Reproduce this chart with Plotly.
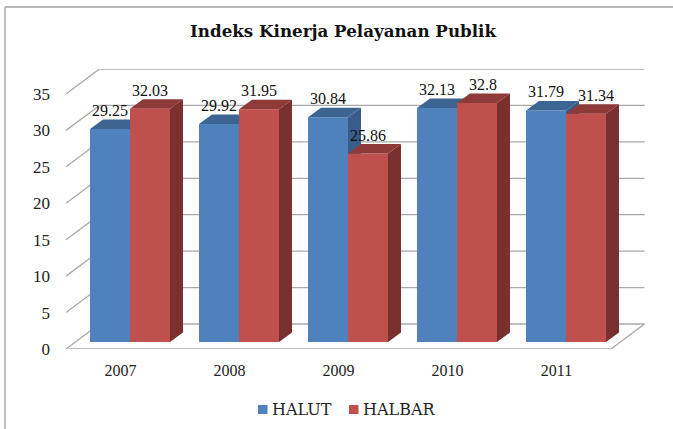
import plotly.graph_objects as go

years = ["2007", "2008", "2009", "2010", "2011"]
halut = [29.25, 29.92, 30.84, 32.13, 31.79]
halbar = [32.03, 31.95, 25.86, 32.80, 31.34]
y_ticks = [0, 5, 10, 15, 20, 25, 30, 35]

# Layout geometry, in pixels of the 673x429 page
W, H = 673, 429
LEFT, BOTTOM_Y, RIGHT, TOP_Y = 66, 349, 645, 69
PX_X, PX_Y = 109.0, 7.286          # pixels per category, pixels per value unit
x_max = (RIGHT - LEFT) / PX_X
y_max = (BOTTOM_Y - TOP_Y) / PX_Y
WALL_DX, WALL_DY = 33.5 / PX_X, 25 / PX_Y    # depth of the floor
BAR_DX, BAR_DY = 13 / PX_X, 9.5 / PX_Y       # depth of a bar
BAR_W = 40 / PX_X
BASE = 7 / PX_Y
BLUE_C, RED_C = 44 / PX_X, 84 / PX_X         # face centres within a category
LABEL_UP = 17 / PX_Y
GRID = "#a8a8a8"
FONT = "Liberation Serif"
WIDE_FONT = "DejaVu Serif"
BLUE, RED = "#4F81BD", "#C0504D"

pw, ph = RIGHT - LEFT, BOTTOM_Y - TOP_Y


def paper_x(px):
    return (px - LEFT) / pw


def paper_y(py):
    return (BOTTOM_Y - py) / ph


def side_top(centres, values):
    sx, sy, tx, ty = [], [], [], []
    for c, v in zip(centres, values):
        r, l = c + BAR_W / 2, c - BAR_W / 2
        top = BASE + v
        sx += [r, r + BAR_DX, r + BAR_DX, r, r, None]
        sy += [BASE, BASE + BAR_DY, top + BAR_DY, top, BASE, None]
        tx += [l, l + BAR_DX, r + BAR_DX, r, l, None]
        ty += [top, top + BAR_DY, top + BAR_DY, top, top, None]
    return sx, sy, tx, ty


def add_series(fig, name, values, centre, front, side, top, xa, ya):
    centres = [i + centre for i in range(len(values))]
    sx, sy, tx, ty = side_top(centres, values)
    fig.add_trace(go.Bar(x=centres, y=values, base=BASE, width=BAR_W, name=name,
                         marker=dict(color=front, line=dict(width=0)),
                         xaxis=xa, yaxis=ya, hoverinfo="name+y", showlegend=False))
    for px, py, col in ((sx, sy, side), (tx, ty, top)):
        fig.add_trace(go.Scatter(x=px, y=py, mode="lines", fill="toself", fillcolor=col,
                                 line=dict(width=0, color=col), showlegend=False,
                                 hoverinfo="skip", xaxis=xa, yaxis=ya))


fig = go.Figure()
add_series(fig, "HALUT", halut, BLUE_C, BLUE, "#385D8A", "#3D6594", "x", "y")
add_series(fig, "HALBAR", halbar, RED_C, RED, "#7A302E", "#8E3A38", "x2", "y2")

# Data labels (two of them sit further right in the original)
nudge = {"2010": 6 / PX_X, "2011": 10 / PX_X}
label_x = [i + BLUE_C for i in range(5)] + [i + RED_C + (nudge.get(years[i], 0)) for i in range(5)]
label_y = [BASE + v + LABEL_UP for v in halut + halbar]
fig.add_trace(go.Scatter(x=label_x, y=label_y, mode="text",
                         text=[f"{v:g}" for v in halut + halbar], textposition="middle center",
                         textfont=dict(family=FONT, size=16, color="#111111"),
                         showlegend=False, hoverinfo="skip", xaxis="x2", yaxis="y2", cliponaxis=False))

# Walls and floor lines, derived from the axis ticks
shapes = []
for t in y_ticks:
    shapes.append(dict(type="line", x0=0, y0=t, x1=WALL_DX, y1=t + WALL_DY, xref="x", yref="y",
                       line=dict(color=GRID, width=1.3), layer="below"))
    shapes.append(dict(type="line", x0=WALL_DX, y0=t + WALL_DY, x1=5 + WALL_DX, y1=t + WALL_DY,
                       xref="x", yref="y", line=dict(color=GRID, width=1.3), layer="below"))
shapes.append(dict(type="line", x0=0, y0=0, x1=5, y1=0, xref="x", yref="y",
                   line=dict(color=GRID, width=1.5), layer="below"))
shapes.append(dict(type="line", x0=5, y0=0, x1=5 + WALL_DX, y1=WALL_DY, xref="x", yref="y",
                   line=dict(color=GRID, width=1.3), layer="below"))
# Chart frame: left and top edges only, running off the page
for a in (dict(x0=paper_x(5), y0=paper_y(H + 5), x1=paper_x(5), y1=paper_y(7)),
          dict(x0=paper_x(5), y0=paper_y(7), x1=paper_x(W + 5), y1=paper_y(7))):
    shapes.append(dict(type="line", xref="paper", yref="paper", line=dict(color="#a0a0a0", width=1.3), **a))

# Legend: swatches sit much closer to their text than a Plotly legend allows
annotations = []
for name, colour, swatch_left in (("HALUT", BLUE, 258), ("HALBAR", RED, 349)):
    shapes.append(dict(type="rect", xref="paper", yref="paper", x0=paper_x(swatch_left), x1=paper_x(swatch_left + 9.5),
                       y0=paper_y(414), y1=paper_y(405), fillcolor=colour, line=dict(width=0)))
    annotations.append(dict(text=name, xref="paper", yref="paper", x=paper_x(swatch_left + 12), y=paper_y(409.5),
                            xanchor="left", yanchor="middle", showarrow=False,
                            font=dict(family=WIDE_FONT, size=16, color="#222222")))

fig.update_layout(
    width=W, height=H, autosize=False, showlegend=False,
    margin=dict(l=LEFT, r=W - RIGHT, t=TOP_Y, b=H - BOTTOM_Y, pad=0),
    paper_bgcolor="white", plot_bgcolor="white",
    barmode="overlay", shapes=shapes, annotations=annotations,
    font=dict(family=FONT, size=16, color="#222222"),
    title=dict(text="<b>Indeks Kinerja Pelayanan Publik</b>", x=343 / W, xanchor="center",
               y=1 - 31 / H, yanchor="middle", font=dict(family=WIDE_FONT, size=16.7, color="#111111")),
    xaxis=dict(range=[0, x_max], tickmode="array", tickvals=[i + 0.5 for i in range(5)], ticktext=years,
               showgrid=False, zeroline=False, showline=False, ticks="", ticklabelstandoff=10, automargin=False,
               tickfont=dict(family=FONT, size=16)),
    yaxis=dict(range=[0, y_max], tickmode="array", tickvals=y_ticks, showgrid=False, zeroline=False,
               showline=False, ticks="", ticklabelstandoff=15, automargin=False, tickfont=dict(family=FONT, size=17)),
    xaxis2=dict(range=[0, x_max], overlaying="x", visible=False),
    yaxis2=dict(range=[0, y_max], overlaying="y", visible=False),
)

fig.write_html("out.html", config={"displayModeBar": False},
               post_script="document.body.style.margin='0';document.body.style.overflow='hidden';")
